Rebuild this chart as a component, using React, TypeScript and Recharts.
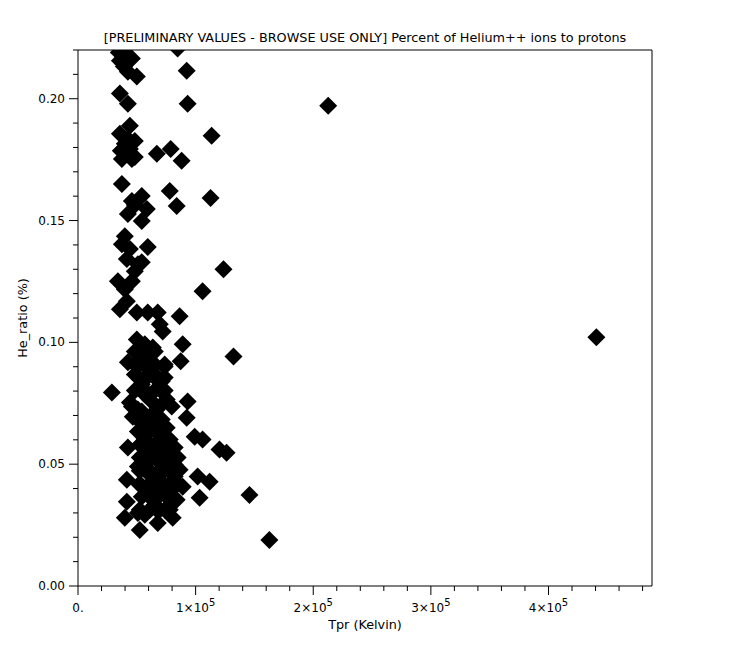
import { ScatterChart, Scatter, XAxis, YAxis, ReferenceLine } from 'recharts';

// [Tpr (K), He++/H+ ratio (%)], grouped by band
const upperBand: [number, number][] = [
    [39800, 0.2206], [34700, 0.219], [35600, 0.2156], [45800, 0.2165], [42400, 0.2111], [50000, 0.2091],
    [35600, 0.2021], [42400, 0.1979], [84700, 0.2206], [92400, 0.2115], [93200, 0.1979], [44100, 0.1889],
    [35600, 0.1856], [48300, 0.1827], [39800, 0.1774], [45800, 0.1753], [67000, 0.1774], [78800, 0.1794],
    [88100, 0.1745], [113600, 0.1848], [39000, 0.2132], [39800, 0.1815], [44100, 0.1794], [37300, 0.1753],
    [42400, 0.1835], [48300, 0.1761], [36400, 0.1786], [37300, 0.165],
];

const middleBand: [number, number][] = [
    [78000, 0.1621], [83900, 0.156], [112700, 0.1593], [45800, 0.158], [54200, 0.1601], [58500, 0.1547],
    [42400, 0.1527], [54200, 0.1498], [39800, 0.1436], [37300, 0.1403], [59300, 0.1391], [41500, 0.1342],
    [54200, 0.1329], [48300, 0.1292], [123700, 0.13], [33900, 0.1251], [45800, 0.1251], [105900, 0.121],
    [44100, 0.1383], [48300, 0.1564], [50900, 0.1321], [39800, 0.1218], [41500, 0.1169], [35600, 0.1136],
    [50000, 0.1123], [59300, 0.1123], [67800, 0.1123], [86400, 0.1107],
];

const lowerBand: [number, number][] = [
    [69500, 0.1074], [72000, 0.1045], [50000, 0.1012], [56800, 0.0992], [63600, 0.0979], [89000, 0.0992],
    [42400, 0.0918], [54200, 0.0942], [73700, 0.0901], [61000, 0.0889], [87300, 0.0922], [132200, 0.0942],
    [28800, 0.0794], [54200, 0.0827], [56800, 0.0786], [71200, 0.084], [44100, 0.0753], [75400, 0.0765],
    [93200, 0.0757], [50900, 0.0724], [67000, 0.0724], [52500, 0.0909], [61000, 0.0951], [65300, 0.0868],
    [48300, 0.0868], [56800, 0.0848], [69500, 0.0807], [61000, 0.0765],
    [48300, 0.0963], [56800, 0.0963], [65300, 0.0963], [48300, 0.0909], [56800, 0.0909], [65300, 0.0909],
    [73700, 0.0909], [56800, 0.0856], [65300, 0.0856], [73700, 0.0856], [48300, 0.0802], [56800, 0.0802],
    [65300, 0.0802], [73700, 0.0802],
];

const bottomBand: [number, number][] = [
    [45800, 0.0737], [54200, 0.0716], [46600, 0.0695], [67800, 0.0733], [79700, 0.0737], [92400, 0.0691],
    [62700, 0.065], [75400, 0.065], [99200, 0.0613], [105900, 0.0601], [42400, 0.0568], [56800, 0.0601],
    [65300, 0.0547], [82200, 0.0568], [120300, 0.056], [126300, 0.0547], [50900, 0.049], [71200, 0.0498],
    [41500, 0.0436], [62700, 0.0449], [82200, 0.0449], [89000, 0.0407], [101700, 0.0449], [111900, 0.0428],
    [103400, 0.0362], [41500, 0.0346], [54200, 0.0366], [63600, 0.0354], [75400, 0.0366], [83900, 0.0354],
    [39800, 0.028], [50900, 0.03], [67000, 0.0313], [67800, 0.0259], [80500, 0.028], [52500, 0.023],
    [145800, 0.0374], [162700, 0.0189], [56800, 0.0663], [65300, 0.0642], [61000, 0.058], [69500, 0.0601],
    [73700, 0.0539], [61000, 0.0519], [56800, 0.0477], [69500, 0.0457], [73700, 0.0416], [61000, 0.0395],
    [52500, 0.0416], [78000, 0.0395], [65300, 0.0333], [73700, 0.0313], [56800, 0.0292], [69500, 0.0374],
    [82200, 0.0498], [86400, 0.0477], [78000, 0.0601], [56800, 0.0539],
    [50900, 0.0683], [61000, 0.0683], [71200, 0.0683], [50900, 0.0634], [61000, 0.0634], [71200, 0.0634],
    [52500, 0.058], [69500, 0.058], [78000, 0.058], [52500, 0.0527], [61000, 0.0527], [69500, 0.0527],
    [78000, 0.0527], [84700, 0.0527], [52500, 0.0473], [61000, 0.0473], [69500, 0.0473], [78000, 0.0473],
    [52500, 0.042], [61000, 0.042], [69500, 0.042], [78000, 0.042], [84700, 0.042], [61000, 0.0366],
    [78000, 0.0366], [52500, 0.0313], [61000, 0.0313], [69500, 0.0313], [78000, 0.0313],
];

const outliers: [number, number][] = [
    [212700, 0.1971], [440700, 0.1021],
];

const xTicks = [0, 20000, 40000, 60000, 80000, 100000, 120000, 140000, 160000, 180000, 200000, 220000,
    240000, 260000, 280000, 300000, 320000, 340000, 360000, 380000, 400000, 420000, 440000, 460000, 480000];
const yTicks = [0, 0.01, 0.02, 0.03, 0.04, 0.05, 0.06, 0.07, 0.08, 0.09, 0.1, 0.11, 0.12, 0.13, 0.14,
    0.15, 0.16, 0.17, 0.18, 0.19, 0.2, 0.21, 0.22];

const FONT = 'DejaVu Sans';

const data = [...upperBand, ...middleBand, ...lowerBand, ...bottomBand, ...outliers]
    .map(([tpr, he]) => ({ tpr, he }));

const Diamond = (props: any) => {
    const { cx, cy } = props;
    const r = 9;
    return <polygon points={`${cx},${cy - r} ${cx + r},${cy} ${cx},${cy + r} ${cx - r},${cy}`} fill="#000" />;
};

const YTick = ({ x, y, payload }: any) => {
    const v = payload.value as number;
    const major = Math.round(v * 100) % 5 === 0;
    return (
        <g>
            <line x1={x} x2={x - (major ? 9 : 5)} y1={y} y2={y} stroke="#000" />
            {major && (
                <text x={x - 13} y={y} dy={4} textAnchor="end" fontFamily={FONT} fontSize={12} fill="#000">
                    {v.toFixed(2)}
                </text>
            )}
        </g>
    );
};

const XTick = ({ x, y, payload }: any) => {
    const v = payload.value as number;
    const major = v % 100000 === 0;
    return (
        <g>
            <line x1={x} x2={x} y1={y} y2={y + (major ? 9 : 5)} stroke="#000" />
            {major && (v === 0 ? (
                <text x={x} y={y + 26} textAnchor="middle" fontFamily={FONT} fontSize={12} fill="#000">0.</text>
            ) : (
                <text x={x} y={y + 26} textAnchor="middle" fontFamily={FONT} fontSize={12} fill="#000">
                    <tspan>{`${v / 100000}×10`}</tspan>
                    <tspan dy={-6} fontSize={10}>5</tspan>
                </text>
            ))}
        </g>
    );
};

export default function App() {
    return (
        <div style={{ position: 'absolute', left: 0, top: 0, width: 730, height: 651, background: '#fff' }}>
            <div style={{
                position: 'absolute', left: 0, top: 30, width: 730, textAlign: 'center',
                fontFamily: FONT, fontSize: 12.8, color: '#000',
            }}>
                [PRELIMINARY VALUES - BROWSE USE ONLY] Percent of Helium++ ions to protons
            </div>
            <ScatterChart width={730} height={651} margin={{ top: 50, right: 78, bottom: 0, left: 0 }}>
                <XAxis
                    type="number" dataKey="tpr" domain={[0, 488000]} ticks={xTicks} interval={0}
                    height={65} tickSize={0} tickMargin={0} tick={<XTick />}
                    axisLine={{ stroke: '#000' }} allowDataOverflow
                    label={{ value: 'Tpr (Kelvin)', position: 'insideBottom', offset: 22, fill: '#000', fontFamily: FONT, fontSize: 12.8 }}
                />
                <YAxis
                    type="number" dataKey="he" domain={[0, 0.22]} ticks={yTicks} interval={0}
                    width={78} tickSize={0} tickMargin={0} tick={<YTick />}
                    axisLine={{ stroke: '#000' }} allowDataOverflow
                    label={{ value: 'He_ratio (%)', position: 'center', angle: -90, dx: -17, fill: '#000', fontFamily: FONT, fontSize: 12.8 }}
                />
                <ReferenceLine y={0.22} stroke="#000" />
                <ReferenceLine x={488000} stroke="#000" />
                <Scatter data={data} fill="#000" shape={<Diamond />} isAnimationActive={false} />
            </ScatterChart>
        </div>
    );
}
